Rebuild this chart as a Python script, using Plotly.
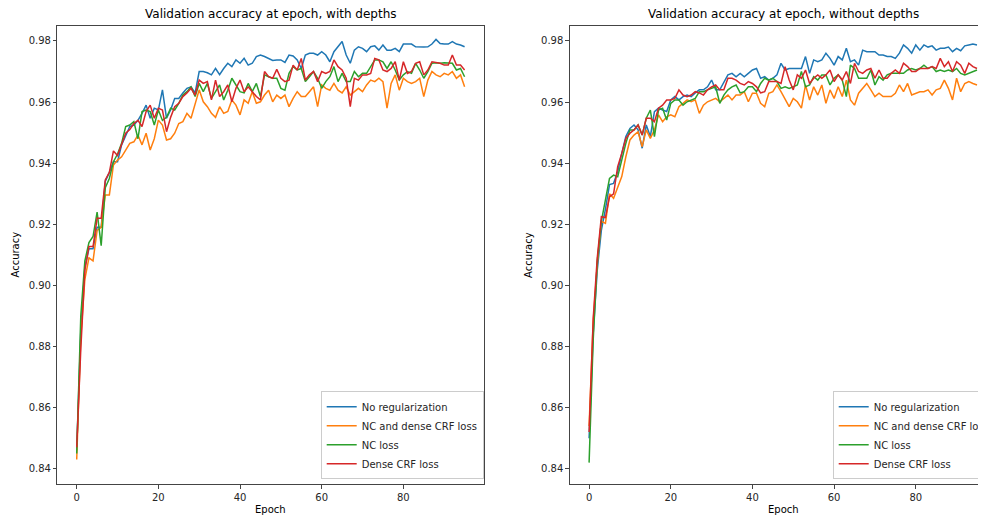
import plotly.graph_objects as go

epochs = list(range(96))
series_names = ["No regularization", "NC and dense CRF loss", "NC loss", "Dense CRF loss"]
series_colors = ["#1f77b4", "#ff7f0e", "#2ca02c", "#d62728"]
titles = ["Validation accuracy at epoch, with depths", "Validation accuracy at epoch, without depths"]
x_label = "Epoch"
y_label = "Accuracy"
y_ticks = [0.84, 0.86, 0.88, 0.90, 0.92, 0.94, 0.96, 0.98]
x_ticks = [0, 20, 40, 60, 80]

# ---- with depths ----
with_no_reg = [0.846, 0.885, 0.906, 0.912, 0.912, 0.919, 0.919, 0.934, 0.937, 0.9405, 0.9405, 0.946, 0.949, 0.952, 0.9525, 0.954,
               0.9563, 0.959, 0.9547, 0.958, 0.9574, 0.964, 0.9547, 0.9574, 0.9612, 0.9612, 0.963, 0.9645, 0.965, 0.963, 0.970, 0.970,
               0.9696, 0.9689, 0.971, 0.969, 0.971, 0.9727, 0.9716, 0.9738, 0.9727, 0.9743, 0.9721, 0.9727, 0.9749, 0.9754, 0.9749, 0.9743,
               0.9736, 0.9738, 0.9738, 0.973, 0.9754, 0.9751, 0.9738, 0.971, 0.9754, 0.976, 0.976, 0.9754, 0.9765, 0.9754, 0.9732, 0.9765,
               0.9781, 0.9798, 0.9754, 0.9727, 0.977, 0.9781, 0.9776, 0.9765, 0.9781, 0.9784, 0.977, 0.9787, 0.977, 0.977, 0.9776, 0.9765,
               0.979, 0.979, 0.979, 0.9781, 0.978, 0.978, 0.9781, 0.979, 0.9805, 0.9792, 0.979, 0.979, 0.9798, 0.979, 0.9787, 0.9781]
with_nc_crf = [0.843, 0.883, 0.902, 0.909, 0.908, 0.918, 0.919, 0.9296, 0.9296, 0.9394, 0.941, 0.9421, 0.9443, 0.9465, 0.947, 0.9492,
               0.946, 0.9498, 0.9443, 0.948, 0.9541, 0.9525, 0.9476, 0.948, 0.9498, 0.953, 0.9536, 0.9563, 0.9547, 0.9596, 0.964, 0.9601,
               0.9585, 0.9563, 0.955, 0.9585, 0.9563, 0.9569, 0.9607, 0.959, 0.9558, 0.9607, 0.9596, 0.9634, 0.9596, 0.9601, 0.9623, 0.9639,
               0.9601, 0.9623, 0.9612, 0.9623, 0.9585, 0.9612, 0.9634, 0.9618, 0.9618, 0.9634, 0.965, 0.9585, 0.9656, 0.9645, 0.9639, 0.9661,
               0.9639, 0.963, 0.965, 0.9623, 0.9634, 0.9645, 0.9634, 0.9656, 0.9672, 0.9667, 0.9678, 0.9667, 0.958, 0.9661, 0.9689, 0.9639,
               0.9678, 0.9667, 0.9661, 0.9667, 0.9678, 0.9618, 0.9672, 0.970, 0.9689, 0.9683, 0.9694, 0.9689, 0.970, 0.9678, 0.9689, 0.965]
with_nc = [0.845, 0.89, 0.908, 0.914, 0.916, 0.924, 0.913, 0.932, 0.935, 0.9405, 0.943, 0.9465, 0.952, 0.9525, 0.9536, 0.948,
           0.9569, 0.9574, 0.9569, 0.9525, 0.9574, 0.954, 0.955, 0.958, 0.9574, 0.9596, 0.9623, 0.9634, 0.965, 0.9618, 0.9661, 0.9634,
           0.9661, 0.9612, 0.9634, 0.9656, 0.9607, 0.9639, 0.9678, 0.9656, 0.9634, 0.963, 0.9661, 0.9634, 0.9661, 0.9618, 0.9689, 0.9683,
           0.9678, 0.9678, 0.9645, 0.9639, 0.9694, 0.9716, 0.9705, 0.971, 0.9667, 0.9683, 0.970, 0.9678, 0.9645, 0.9667, 0.9683, 0.9716,
           0.9667, 0.9694, 0.9667, 0.9667, 0.970, 0.9683, 0.9694, 0.9694, 0.9716, 0.9738, 0.9738, 0.9732, 0.971, 0.9732, 0.9705, 0.9672,
           0.9689, 0.970, 0.9694, 0.9727, 0.9705, 0.9678, 0.970, 0.9727, 0.9729, 0.9727, 0.9729, 0.9729, 0.9727, 0.9705, 0.971, 0.9683]
with_crf = [0.847, 0.879, 0.905, 0.9127, 0.9127, 0.922, 0.922, 0.9345, 0.937, 0.944, 0.9425, 0.946, 0.9498, 0.951, 0.953, 0.954,
            0.952, 0.9569, 0.959, 0.9547, 0.958, 0.9574, 0.9503, 0.955, 0.9585, 0.9596, 0.9618, 0.963, 0.9645, 0.9623, 0.9672, 0.9661,
            0.9667, 0.9607, 0.9672, 0.9618, 0.9634, 0.9656, 0.9601, 0.9645, 0.9672, 0.9634, 0.965, 0.9634, 0.9618, 0.9607, 0.970, 0.9683,
            0.9678, 0.9707, 0.9678, 0.9667, 0.9672, 0.9721, 0.9705, 0.9743, 0.9672, 0.9689, 0.970, 0.9667, 0.970, 0.9694, 0.970, 0.9738,
            0.9716, 0.9705, 0.9678, 0.9585, 0.9678, 0.9672, 0.9689, 0.9689, 0.9694, 0.9743, 0.9738, 0.9705, 0.970, 0.971, 0.9732, 0.9672,
            0.9732, 0.9694, 0.970, 0.9727, 0.9732, 0.9689, 0.9705, 0.9732, 0.9729, 0.9727, 0.9721, 0.9721, 0.9754, 0.9721, 0.9721, 0.9705]

# ---- without depths ----
without_no_reg = [0.850, 0.884, 0.905, 0.918, 0.925, 0.933, 0.9334, 0.9372, 0.9432, 0.9487, 0.9514, 0.9525, 0.9509, 0.9449, 0.9525, 0.9487,
                  0.9569, 0.958, 0.9574, 0.9569, 0.9607, 0.9618, 0.9607, 0.9618, 0.9623, 0.9618, 0.963, 0.964, 0.964, 0.965, 0.9672, 0.964,
                  0.964, 0.9667, 0.9689, 0.9694, 0.9683, 0.9694, 0.9683, 0.9694, 0.9705, 0.971, 0.9678, 0.9683, 0.9672, 0.9678, 0.9689, 0.9727,
                  0.9705, 0.971, 0.971, 0.971, 0.971, 0.9749, 0.9694, 0.9738, 0.9732, 0.9738, 0.976, 0.9743, 0.9721, 0.9749, 0.9738, 0.9776,
                  0.9732, 0.9738, 0.9721, 0.977, 0.9765, 0.9765, 0.9765, 0.9754, 0.9754, 0.9749, 0.9749, 0.9743, 0.976, 0.9787, 0.9776, 0.976,
                  0.9787, 0.977, 0.9787, 0.978, 0.9784, 0.977, 0.9776, 0.9776, 0.978, 0.9765, 0.9776, 0.9768, 0.9784, 0.9787, 0.979, 0.9787]
without_nc_crf = [0.854, 0.888, 0.907, 0.921, 0.9203, 0.930, 0.9285, 0.9318, 0.9356, 0.9421, 0.9476, 0.9492, 0.9503, 0.9454, 0.9509, 0.9481,
                  0.9509, 0.9558, 0.9536, 0.9552, 0.9558, 0.9552, 0.9585, 0.9596, 0.9607, 0.9601, 0.9607, 0.9563, 0.959, 0.9601, 0.9607, 0.9612,
                  0.9601, 0.9612, 0.9623, 0.9607, 0.9623, 0.9623, 0.9634, 0.9601, 0.9629, 0.9629, 0.9596, 0.9585, 0.9629, 0.9634, 0.9656, 0.9634,
                  0.9607, 0.9585, 0.9612, 0.9601, 0.958, 0.9656, 0.9607, 0.965, 0.9623, 0.9656, 0.9596, 0.964, 0.9612, 0.965, 0.9618, 0.9672,
                  0.9607, 0.959, 0.9629, 0.9645, 0.9661, 0.964, 0.9618, 0.9629, 0.9618, 0.9618, 0.9618, 0.9629, 0.9656, 0.9634, 0.9661, 0.9623,
                  0.9629, 0.9634, 0.9634, 0.964, 0.9623, 0.964, 0.9645, 0.9672, 0.9645, 0.9607, 0.9678, 0.9634, 0.9661, 0.9667, 0.9661, 0.9656]
without_nc = [0.842, 0.882, 0.908, 0.921, 0.928, 0.935, 0.9361, 0.9356, 0.941, 0.9465, 0.9509, 0.9509, 0.9525, 0.9492, 0.9547, 0.9574,
              0.9487, 0.9574, 0.958, 0.9541, 0.9596, 0.9607, 0.9607, 0.959, 0.9601, 0.9607, 0.9612, 0.9634, 0.9634, 0.964, 0.9645, 0.965,
              0.9596, 0.9623, 0.964, 0.965, 0.9656, 0.963, 0.9634, 0.965, 0.965, 0.9634, 0.9661, 0.9678, 0.9672, 0.9678, 0.9667, 0.9645,
              0.965, 0.9645, 0.965, 0.9656, 0.970, 0.965, 0.9656, 0.9683, 0.9672, 0.9689, 0.9689, 0.9656, 0.9678, 0.9689, 0.9672, 0.9618,
              0.9721, 0.971, 0.9678, 0.9678, 0.9678, 0.9705, 0.9656, 0.9683, 0.9672, 0.9689, 0.9694, 0.9694, 0.9694, 0.9694, 0.9705, 0.971,
              0.9705, 0.971, 0.9721, 0.971, 0.9716, 0.970, 0.9705, 0.970, 0.9705, 0.970, 0.971, 0.9694, 0.9689, 0.9694, 0.970, 0.9705]
without_crf = [0.852, 0.889, 0.909, 0.9225, 0.9222, 0.929, 0.930, 0.9389, 0.9432, 0.9481, 0.9498, 0.9509, 0.9525, 0.9492, 0.9547, 0.9547,
               0.9536, 0.958, 0.959, 0.9607, 0.9607, 0.9612, 0.964, 0.9623, 0.9618, 0.9623, 0.9634, 0.963, 0.9623, 0.964, 0.965, 0.9656,
               0.964, 0.964, 0.9678, 0.9678, 0.9672, 0.9661, 0.9656, 0.9667, 0.9661, 0.965, 0.963, 0.9634, 0.9667, 0.9667, 0.9667, 0.9661,
               0.9716, 0.9672, 0.964, 0.9689, 0.9678, 0.9705, 0.9661, 0.9678, 0.9689, 0.9678, 0.9689, 0.9705, 0.9667, 0.9689, 0.9672, 0.970,
               0.9661, 0.9727, 0.970, 0.9694, 0.9705, 0.971, 0.9678, 0.9705, 0.9678, 0.9678, 0.9694, 0.9705, 0.9694, 0.9727, 0.9716, 0.970,
               0.970, 0.971, 0.971, 0.971, 0.9716, 0.971, 0.9743, 0.9716, 0.9732, 0.970, 0.9732, 0.9721, 0.9694, 0.9727, 0.9716, 0.971]

panels = [
    [with_no_reg, with_nc_crf, with_nc, with_crf],
    [without_no_reg, without_nc_crf, without_nc, without_crf],
]

# The page body has an 8px margin, so the figure is sized to end at the window edge
OFF = 8
W, H = 986 - OFF, 516 - OFF
FONT = "DejaVu Sans, Verdana, sans-serif"
TXT = "#262626"
AX = "#444444"

fig = go.Figure()
for p, series in enumerate(panels):
    for name, color, vals in zip(series_names, series_colors, series):
        fig.add_trace(go.Scatter(
            x=epochs, y=vals, mode="lines", name=name,
            line=dict(color=color, width=1.5),
            xaxis="x" if p == 0 else "x2", yaxis="y" if p == 0 else "y2",
            legend="legend" if p == 0 else "legend2",
            hoverinfo="skip",
        ))

# pixel geometry of the axes boxes (in figure pixels)
L1, R1 = 57.3 - OFF, 484.0 - OFF
L2, R2full = 569.7 - OFF, 996.4 - OFF
TOP, BOT = 25.7 - OFF, 484.3 - OFF
xmin, xmax = -4.75, 99.75
px_per_epoch = (R1 - L1) / (xmax - xmin)
x2max = xmin + (W - L2) / px_per_epoch

common_x = dict(tickmode="array", tickvals=x_ticks, ticks="outside", ticklen=3.5, tickwidth=0.8,
                tickcolor=AX, showline=True, linecolor=AX, linewidth=0.8, showgrid=False, zeroline=False,
                tickfont=dict(family=FONT, size=10, color=TXT))
common_y = dict(tickmode="array", tickvals=y_ticks, ticktext=[f"{v:.2f}" for v in y_ticks], ticks="outside",
                ticklen=3.5, tickwidth=0.8, tickcolor=AX, showline=True, linecolor=AX, linewidth=0.8,
                showgrid=False, zeroline=False, range=[0.8349, 0.9850],
                tickfont=dict(family=FONT, size=10, color=TXT))

ydom = [1 - BOT / H, 1 - TOP / H]
leg_common = dict(xanchor="left", yanchor="bottom", y=1 - (479.3 - OFF) / H,
                  bgcolor="rgba(255,255,255,0.8)", bordercolor="#cccccc", borderwidth=1,
                  font=dict(family=FONT, size=10, color=TXT), tracegroupgap=0)
fig.update_layout(
    width=W, height=H,
    margin=dict(l=0, r=0, t=0, b=0, pad=0, autoexpand=False),
    paper_bgcolor="white", plot_bgcolor="white",
    font=dict(family=FONT, size=10, color=TXT),
    xaxis=dict(domain=[L1 / W, R1 / W], range=[xmin, xmax], anchor="y", mirror=True, **common_x),
    yaxis=dict(domain=ydom, anchor="x", mirror=True, **common_y),
    xaxis2=dict(domain=[L2 / W, 1.0], range=[xmin, x2max], anchor="y2", mirror=True, **common_x),
    yaxis2=dict(domain=ydom, anchor="x2", mirror=True, **common_y),
    legend=dict(x=(320.7 - OFF) / W, **leg_common),
    legend2=dict(x=(832.7 - OFF) / W, **leg_common),
    showlegend=True,
)

centers = [(L1 + R1) / 2, (L2 + R2full) / 2]
ylab_x = [14.5 - OFF, 528.0 - OFF]
for c, t, yl in zip(centers, titles, ylab_x):
    fig.add_annotation(text=t, x=c / W, y=1 - (14.5 - OFF) / H, xref="paper", yref="paper",
                       xanchor="center", yanchor="middle", showarrow=False,
                       font=dict(family=FONT, size=12, color="black"))
    fig.add_annotation(text=x_label, x=c / W, y=1 - (509.5 - OFF) / H, xref="paper", yref="paper",
                       xanchor="center", yanchor="middle", showarrow=False,
                       font=dict(family=FONT, size=10, color="black"))
    fig.add_annotation(text=y_label, x=yl / W, y=1 - ((TOP + BOT) / 2) / H, xref="paper", yref="paper",
                       xanchor="center", yanchor="middle", showarrow=False, textangle=-90,
                       font=dict(family=FONT, size=10, color="black"))

fig.write_html("out.html")
